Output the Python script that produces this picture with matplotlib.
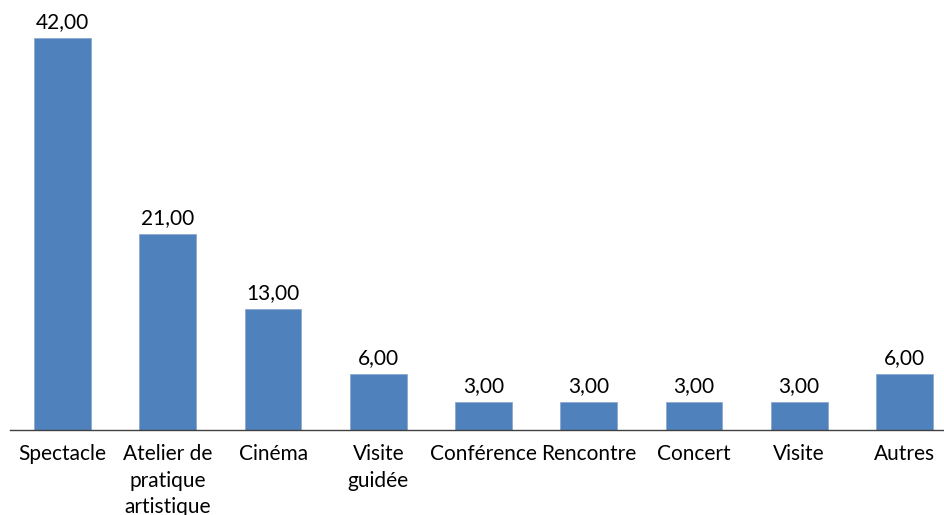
import matplotlib
matplotlib.use('Agg')
import matplotlib.pyplot as plt
import numpy as np

# catégories et valeurs
categories = ['Spectacle', 'Atelier de\npratique\nartistique', 'Cinéma', 'Visite\nguidée',
              'Conférence', 'Rencontre', 'Concert', 'Visite', 'Autres']
valeurs = [42, 21, 13, 6, 3, 3, 3, 3, 6]

plt.rcParams['font.family'] = ['Lato', 'DejaVu Sans']

fig = plt.figure(figsize=(9.44, 5.15), dpi=100)
ax = fig.add_axes([10 / 944, 85 / 515, 934 / 944, 430 / 515])

x = np.arange(len(categories))
ax.bar(x, valeurs, width=0.54, color='#4F81BD', edgecolor='#8FA9CF', linewidth=0.6)

for xi, v in zip(x, valeurs):
    ax.text(xi, v + 0.6, f'{v:.2f}'.replace('.', ','), ha='center', va='bottom',
            fontsize=15, color='black')

ax.set_xlim(-0.5, 8.376)
ax.set_ylim(0, 46.07)
ax.set_xticks(x)
ax.set_xticklabels(categories, fontsize=15, linespacing=1.42)
ax.tick_params(axis='x', length=0, pad=10)
ax.set_yticks([])
for s in ['top', 'right', 'left']:
    ax.spines[s].set_visible(False)
ax.spines['bottom'].set_color('#404040')
ax.spines['bottom'].set_linewidth(1.0)

fig.savefig('out.png', dpi=100)
